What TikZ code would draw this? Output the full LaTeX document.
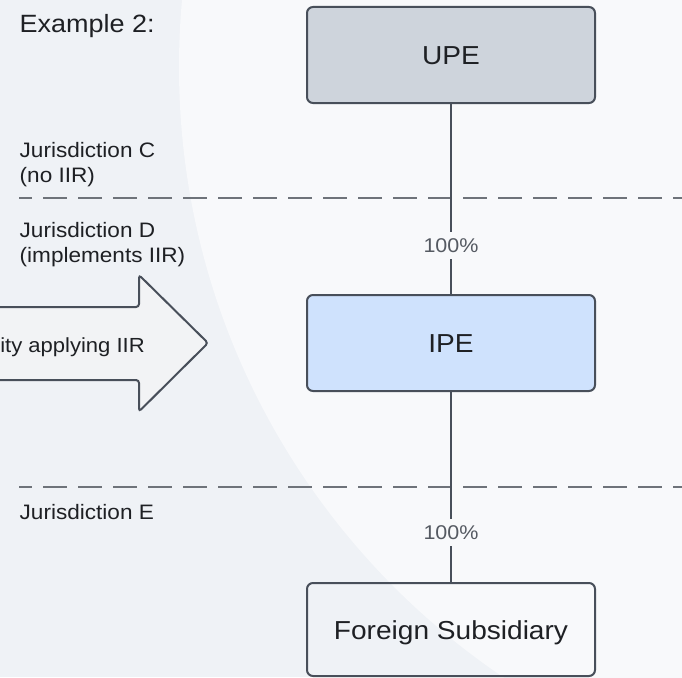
\documentclass[tikz,border=0pt]{standalone}
\usepackage{fontspec}
\setmainfont{Liberation Sans}[FakeStretch=1.08]
\definecolor{bgL}{RGB}{239,242,246}
\definecolor{bgR}{RGB}{248,249,251}
\definecolor{edge}{RGB}{72,79,90}
\definecolor{upefill}{RGB}{206,212,220}
\definecolor{ipefill}{RGB}{207,226,253}
\definecolor{arrowfill}{RGB}{242,243,245}
\definecolor{dashc}{RGB}{110,115,122}
\definecolor{txt}{RGB}{30,32,36}
\definecolor{pct}{RGB}{85,90,98}
\begin{document}
\begin{tikzpicture}[x=1pt,y=-1pt,
  box/.style={draw=edge, line width=2pt, rounded corners=6pt, minimum width=288pt,
    minimum height=96pt, inner sep=0pt, text=txt,
    font=\fontsize{26}{30}\selectfont, text height=19pt, text depth=0pt},
  juris/.style={anchor=base west, inner sep=0pt, align=left, text=txt,
    font=\fontsize{20.9}{25}\selectfont},
  pctlabel/.style={fill=bgR, text=pct, font=\fontsize{19.9}{22}\selectfont,
    inner sep=0pt, inner xsep=2pt, minimum height=27pt},
  link/.style={draw=edge, line width=2pt},
  sepline/.style={draw=dashc, line width=1.8pt, dash pattern=on 24pt off 11pt, dash phase=11pt},
  bigarrow/.style={draw=edge, fill=arrowfill, line width=2pt, rounded corners=3pt}]
\useasboundingbox (0,0) rectangle (682,677);
\clip (0,0) rectangle (682,677);
% background
\fill[bgL] (0,0) rectangle (682,677);
\fill[bgR] (915,67) circle[radius=736pt];
% title
\node[anchor=base west, inner sep=0pt, text=txt, font=\fontsize{25}{29}\selectfont] (title) at (19.5,33) {Example 2:};
% separators
\coordinate (s1a) at (19,198.3);
\coordinate (s1b) at (690,198.3);
\coordinate (s2a) at (19,486.7);
\coordinate (s2b) at (690,486.7);
\draw[sepline] (s1a) -- (s1b);
\draw[sepline] (s2a) -- (s2b);
% jurisdiction labels (base anchor = last line)
\node[juris] (jc) at (19.5,182) {Jurisdiction C\\(no IIR)};
\node[juris] (jd) at (19.5,262) {Jurisdiction D\\(implements IIR)};
\node[juris] (je) at (19.5,519) {Jurisdiction E};
% arrow
\draw[bigarrow] (-10,307) -- (139,307) -- (139,275) -- (208,343) -- (139,411.5) -- (139,380) -- (-10,380) -- cycle;
\node[anchor=base east, inner sep=0pt, text=txt, font=\fontsize{20.4}{24}\selectfont] (entity) at (145,352) {ity applying IIR};
% boxes
\node[box, fill=upefill] (upe) at (451,55) {UPE};
\node[box, fill=ipefill] (ipe) at (451,343) {IPE};
\node[box, minimum height=93pt] (fs) at (451,629.5) {Foreign Subsidiary};
% connectors
\draw[link] (upe) -- (ipe) node[pos=0.745, pctlabel] (p1) {100\%};
\draw[link] (ipe) -- (fs) node[pos=0.742, pctlabel] (p2) {100\%};
\end{tikzpicture}
\end{document}
